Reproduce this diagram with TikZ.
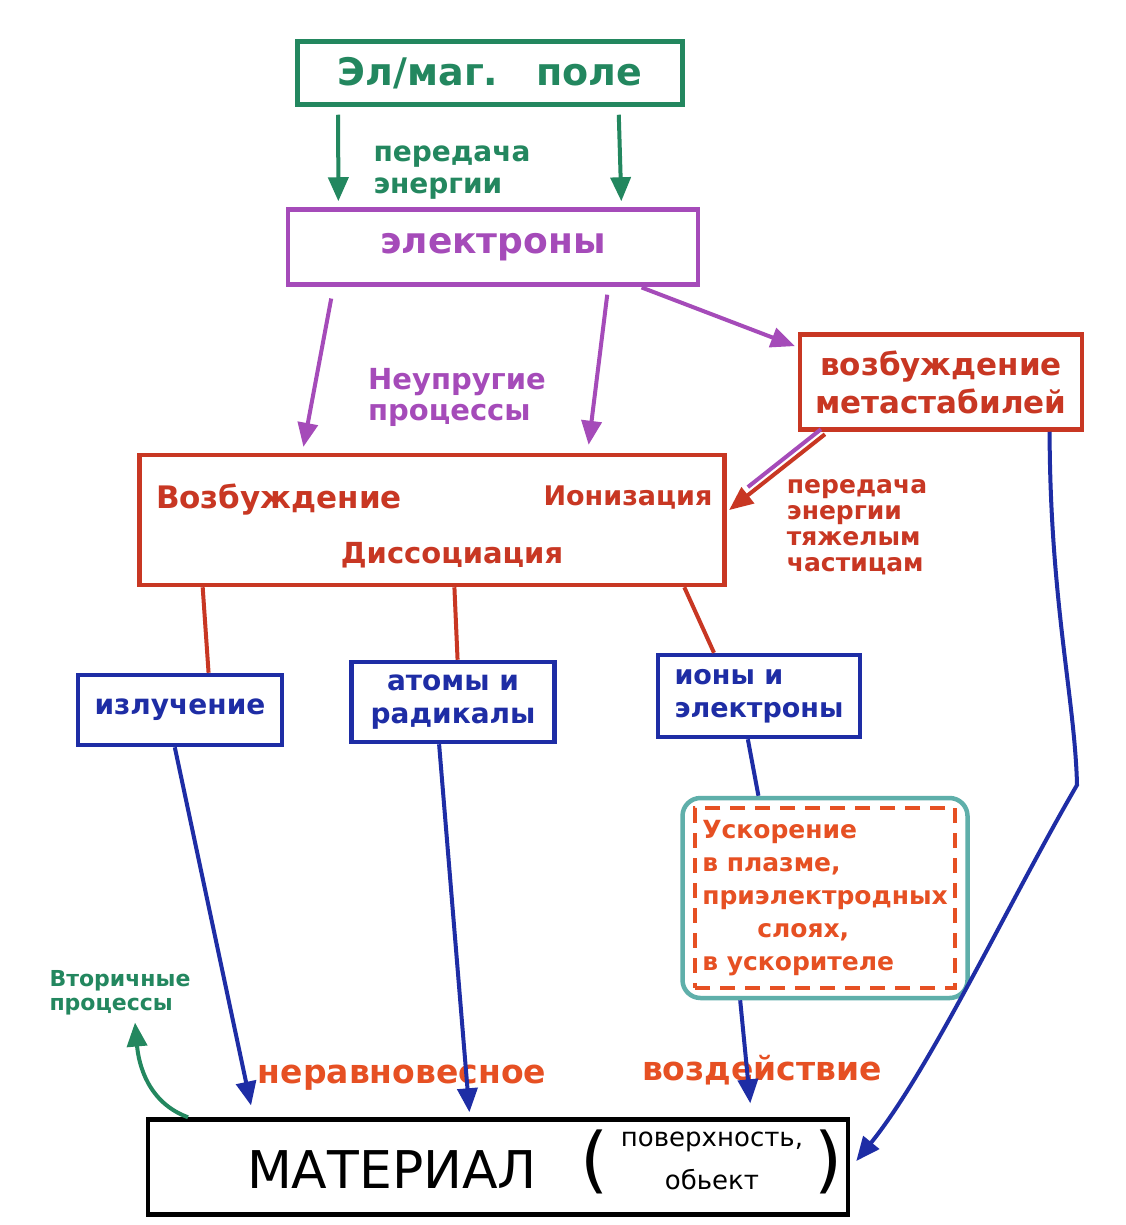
\documentclass[tikz,border=0pt]{standalone}
\usepackage{fontspec}
\setmainfont{DejaVu Sans}
\usetikzlibrary{arrows.meta,calc}
\definecolor{cgreen}{RGB}{35,135,95}
\definecolor{cpurple}{RGB}{165,75,185}
\definecolor{cred}{RGB}{200,55,35}
\definecolor{cblue}{RGB}{30,45,165}
\definecolor{cteal}{RGB}{95,175,170}
\definecolor{corange}{RGB}{230,80,35}
\begin{document}
\begin{tikzpicture}[x=1pt,y=1pt,
  box/.style={draw, line width=4.5pt, rectangle, inner sep=4pt, align=center},
  txt/.style={inner sep=1pt, align=left, font=\bfseries},
  tip/.style={-{Triangle[length=24pt,width=20pt]}},
  conn/.style={line width=4pt},
]
\fill[white] (0,0) rectangle (1125,-1225);
\useasboundingbox (0,0) rectangle (1125,-1225);

% boxes
\node[box, draw=cgreen, text=cgreen, minimum width=385, minimum height=63, font=\bfseries\fontsize{38}{42}\selectfont] (field) at (490,-73) {Эл/маг.\quad поле};
\node[box, draw=cpurple, text=cpurple, minimum width=410, minimum height=75, font=\bfseries\fontsize{36}{40}\selectfont] (el) at (493,-247) {электроны};
\node[box, draw=cred, text=cred, minimum width=282, minimum height=95, inner sep=2pt, font=\bfseries\fontsize{31}{38}\selectfont] (meta) at (941,-382) {возбуждение\\метастабилей};
\node[box, draw=cred, minimum width=585, minimum height=130] (main) at (432,-520) {};
\node[box, draw=cblue, text=cblue, minimum width=204, minimum height=70, font=\bfseries\fontsize{28}{32}\selectfont] (rad) at (180,-710) {излучение};
\node[box, draw=cblue, text=cblue, minimum width=203, minimum height=80, font=\bfseries\fontsize{28}{33}\selectfont] (atoms) at (453,-702) {атомы и\\радикалы};
\node[box, draw=cblue, text=cblue, minimum width=202, minimum height=82, align=left, font=\bfseries\fontsize{27}{33}\selectfont] (ions) at (759,-696) {ионы и\\электроны};
\node[draw=cteal, line width=4.5pt, rounded corners=18pt, minimum width=285, minimum height=200] (acc) at (825,-898) {};
\node[draw=corange, dash pattern=on 15pt off 10pt, line width=3.5pt, minimum width=260, minimum height=180, inner sep=2pt, text=corange, align=left, font=\bfseries\fontsize{25}{33}\selectfont] (accd) at (acc.center) {Ускорение\\в плазме,\\приэлектродных\\\hspace*{55pt}слоях,\\в ускорителе};
\node[draw=black, line width=4.5pt, minimum width=700, minimum height=95] (mat) at (498,-1167) {};

% texts inside main and material
\node[txt, text=cred, font=\bfseries\fontsize{31}{34}\selectfont] (vozb) at (279,-500) {Возбуждение};
\node[txt, text=cred, font=\bfseries\fontsize{27}{30}\selectfont] (ioniz) at (628,-498) {Ионизация};
\node[txt, text=cred, font=\bfseries\fontsize{29}{32}\selectfont] (diss) at (452,-555) {Диссоциация};
\node[txt, font=\mdseries\fontsize{52}{56}\selectfont] (matt) at (392,-1170) {МАТЕРИАЛ};
\node[txt, font=\mdseries\fontsize{72}{72}\selectfont] (lpar) at (595,-1162) {(};
\node[txt, font=\mdseries\fontsize{26}{30}\selectfont] (matp1) at (712,-1142) {поверхность,};
\node[txt, font=\mdseries\fontsize{26}{30}\selectfont] (matp2) at (712,-1180) {обьект};
\node[txt, font=\mdseries\fontsize{72}{72}\selectfont] (rpar) at (829,-1162) {)};

% labels
\node[txt, text=cgreen, font=\bfseries\fontsize{28}{32}\selectfont] (lbl1) at (452,-173) {передача\\энергии};
\node[txt, text=cpurple, font=\bfseries\fontsize{29}{31}\selectfont] (lbl2) at (457,-397) {Неупругие\\процессы};
\node[txt, text=cred, font=\bfseries\fontsize{25}{26}\selectfont] (lbl3) at (857,-527) {передача\\энергии\\тяжелым\\частицам};
\node[txt, text=cgreen, font=\bfseries\fontsize{22}{24}\selectfont] (vtor) at (120,-993) {Вторичные\\процессы};
\node[txt, text=corange, font=\bfseries\fontsize{33}{36}\selectfont] (nerav) at (402,-1078) {неравновесное};
\node[txt, text=corange, font=\bfseries\fontsize{33}{36}\selectfont] (vozd) at (762,-1070) {воздействие};

% anchor points
\coordinate (f1) at ($(field.south west)!0.11!(field.south east)$);
\coordinate (f2) at ($(field.south west)!0.83!(field.south east)$);
\coordinate (e1) at ($(el.north west)!0.127!(el.north east)$);
\coordinate (e2) at ($(el.north west)!0.81!(el.north east)$);
\coordinate (e3) at ($(el.south west)!0.115!(el.south east)$);
\coordinate (e4) at ($(el.south west)!0.778!(el.south east)$);
\coordinate (e5) at ($(el.south west)!0.854!(el.south east)$);
\coordinate (m1) at ($(main.north west)!0.28!(main.north east)$);
\coordinate (m2) at ($(main.north west)!0.764!(main.north east)$);
\coordinate (mw) at ($(meta.north west)!0.15!(meta.south west)$);
\coordinate (md) at ($(meta.south west)!0.106!(meta.south east)$);
\coordinate (me) at ($(main.north east)!0.44!(main.south east)$);
\coordinate (ms1) at ($(main.south west)!0.111!(main.south east)$);
\coordinate (ms2) at ($(main.south west)!0.538!(main.south east)$);
\coordinate (ms3) at ($(main.south west)!0.928!(main.south east)$);
\coordinate (rn) at ($(rad.north west)!0.637!(rad.north east)$);
\coordinate (an) at ($(atoms.north west)!0.522!(atoms.north east)$);
\coordinate (in) at ($(ions.north west)!0.282!(ions.north east)$);
\coordinate (rs) at ($(rad.south west)!0.475!(rad.south east)$);
\coordinate (as) at ($(atoms.south west)!0.433!(atoms.south east)$);
\coordinate (is) at ($(ions.south west)!0.446!(ions.south east)$);
\coordinate (acn) at ($(acc.north west)!0.27!(acc.north east)$);
\coordinate (acs) at ($(acc.south west)!0.207!(acc.south east)$);
\coordinate (mt1) at ($(mat.north west)!0.153!(mat.north east)$);
\coordinate (mt2) at ($(mat.north west)!0.46!(mat.north east)$);
\coordinate (mt3) at ($(mat.north west)!0.86!(mat.north east)$);
\coordinate (mt0) at ($(mat.north west)!0.06!(mat.north east)$);
\coordinate (mre) at ($(mat.north east)!0.44!(mat.south east)$);
\coordinate (mts) at ($(meta.south west)!0.879!(meta.south east)$);
\coordinate (bend) at (1077,-785);
\coordinate (vt) at ($(vtor.south)+(15,-6)$);

% green
\draw[conn, cgreen, tip, shorten <=8pt, shorten >=6pt] (f1) -- (e1);
\draw[conn, cgreen, tip, shorten <=8pt, shorten >=6pt] (f2) -- (e2);
% purple
\draw[conn, cpurple, tip, shorten <=12pt, shorten >=6pt] (e3) -- (m1);
\draw[conn, cpurple, tip, shorten <=8pt, shorten >=8pt] (e4) -- (m2);
\draw[conn, cpurple, tip, shorten <=2pt, shorten >=3pt] (e5) -- (mw);
% double purple/red
\draw[conn, cred, tip, shorten <=4pt, shorten >=3pt] (md) -- (me);
\draw[conn, cpurple, shorten <=4pt, shorten >=32pt, transform canvas={xshift=-4pt,yshift=5pt}] (md) -- (me);
% red links
\draw[conn, cred] (ms1) -- (rn);
\draw[conn, cred] (ms2) -- (an);
\draw[conn, cred] (ms3) -- (in);
% blue
\draw[conn, cblue, tip, shorten >=12pt] (rs) -- (mt1);
\draw[conn, cblue, tip, shorten >=5pt] (as) -- (mt2);
\draw[conn, cblue] (is) -- (acn);
\draw[conn, cblue, tip, shorten >=14pt] (acs) -- (mt3);
\draw[conn, cblue, tip] (mts) .. controls (1050,-600) and (1075,-700) .. (bend) .. controls (1010,-900) and (930,-1070) .. ($(mre)+(6,0)$);
% green secondary
\draw[conn, cgreen, tip] (mt0) to[out=160, in=-85] (vt);
\end{tikzpicture}
\end{document}
